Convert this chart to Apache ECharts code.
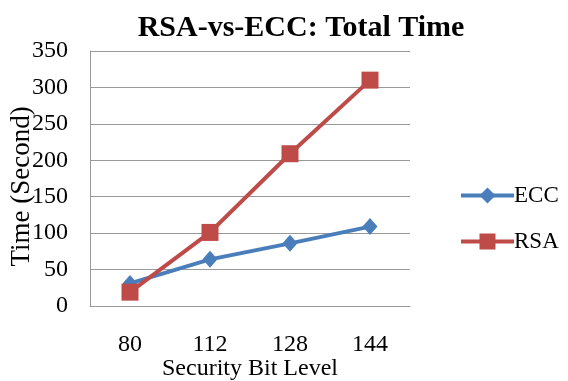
<!DOCTYPE html>
<html><head><meta charset="utf-8">
<script src="https://cdn.jsdelivr.net/npm/echarts@6/dist/echarts.min.js"></script>
<style>html,body{margin:0;padding:0;background:#fff}#c{width:568px;height:381px}</style>
</head><body><div id="c"></div>
<script>
var categories = ['80', '112', '128', '144'];
var eccValues = [31, 64, 86, 109];
var rsaValues = [19, 101, 209, 310];
var yTicks = [0, 50, 100, 150, 200, 250, 300, 350];

var serif = '"Liberation Serif","Times New Roman",serif';
var chart = echarts.init(document.getElementById('c'), null, {renderer: 'canvas'});
chart.setOption({
  animation: false,
  backgroundColor: '#fff',
  title: {
    text: 'RSA-vs-ECC: Total Time', left: 296, top: 8, textAlign: 'center',
    textStyle: {fontFamily: serif, fontSize: 30, fontWeight: 'bold', color: '#000'}
  },
  grid: {left: 90, right: 158, top: 51, bottom: 75, containLabel: false, outerBoundsMode: 'none'},
  legend: {
    orient: 'vertical', left: 454, top: 179, itemWidth: 53, itemHeight: 20, itemGap: 23,
    lineStyle: {width: 4},
    textStyle: {fontFamily: serif, fontSize: 23, color: '#000', padding: [0, 0, 0, -5]},
    data: ['ECC', 'RSA']
  },
  xAxis: {
    type: 'category', data: categories, boundaryGap: true,
    name: 'Security Bit Level', nameLocation: 'middle', nameGap: 51, nameMoveOverlap: false,
    nameTextStyle: {fontFamily: serif, fontSize: 24, color: '#000'},
    axisLine: {lineStyle: {color: '#999', width: 1}},
    axisTick: {show: false},
    axisLabel: {fontFamily: serif, fontSize: 24, color: '#000', margin: 27}
  },
  yAxis: {
    type: 'value', min: yTicks[0], max: yTicks[yTicks.length - 1], interval: 50,
    name: 'Time (Second)', nameLocation: 'middle', nameGap: 55, nameMoveOverlap: false,
    nameTextStyle: {fontFamily: serif, fontSize: 27, color: '#000', padding: [0, 16, 0, 0]},
    axisLine: {show: true, lineStyle: {color: '#999', width: 1}},
    axisTick: {show: false},
    splitLine: {lineStyle: {color: '#999', width: 1}},
    axisLabel: {fontFamily: serif, fontSize: 24, color: '#000', margin: 22}
  },
  series: [
    {name: 'ECC', type: 'line', data: eccValues, symbol: 'diamond', symbolSize: [15, 17],
     lineStyle: {color: '#4a7ebb', width: 4}, itemStyle: {color: '#4a7ebb'}, z: 2},
    {name: 'RSA', type: 'line', data: rsaValues, symbol: 'rect', symbolSize: 17,
     lineStyle: {color: '#be4b48', width: 4}, itemStyle: {color: '#be4b48'}, z: 3}
  ]
});
</script></body></html>
